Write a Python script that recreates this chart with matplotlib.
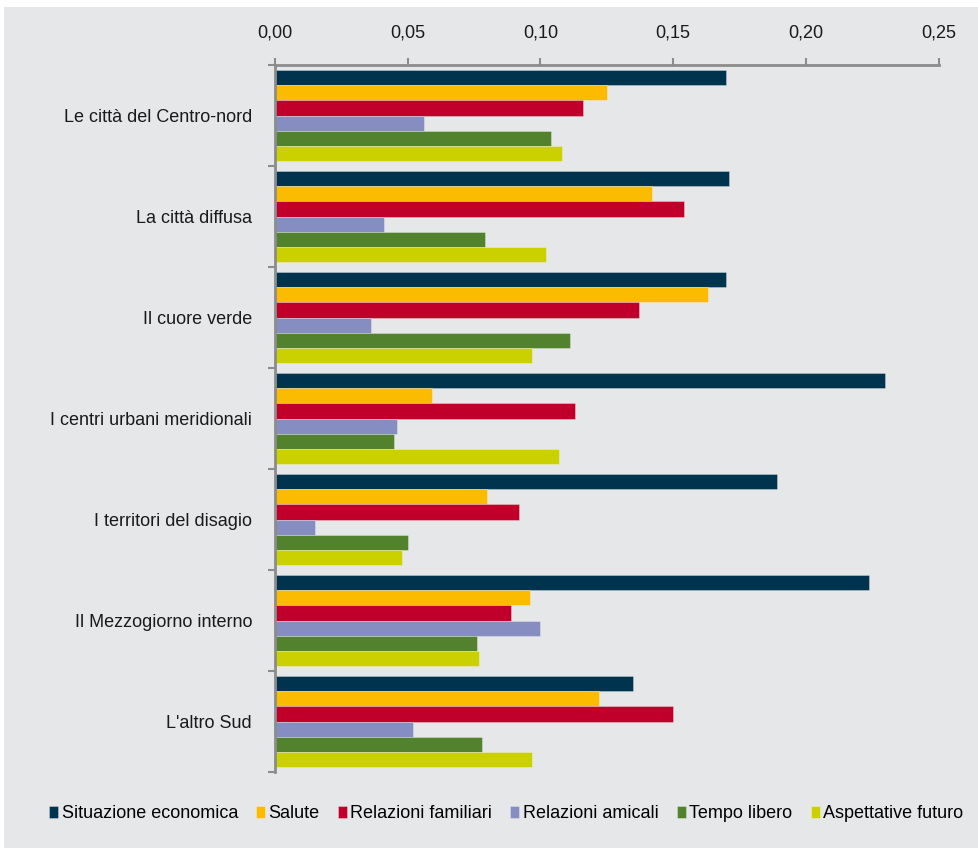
import matplotlib.pyplot as plt
import numpy as np
from matplotlib.patches import Rectangle
from matplotlib.ticker import FuncFormatter, FixedLocator

plt.rcParams['font.family'] = ['Liberation Sans', 'DejaVu Sans']

# Data
categories = ['Le città del Centro-nord', 'La città diffusa', 'Il cuore verde',
              'I centri urbani meridionali', 'I territori del disagio',
              'Il Mezzogiorno interno', "L'altro Sud"]
series_names = ['Situazione economica', 'Salute', 'Relazioni familiari',
                'Relazioni amicali', 'Tempo libero', 'Aspettative futuro']
situazione = [0.170, 0.171, 0.170, 0.230, 0.189, 0.224, 0.135]
salute = [0.125, 0.142, 0.163, 0.059, 0.080, 0.096, 0.122]
familiari = [0.116, 0.154, 0.137, 0.113, 0.092, 0.089, 0.150]
amicali = [0.056, 0.041, 0.036, 0.046, 0.015, 0.100, 0.052]
tempo = [0.104, 0.079, 0.111, 0.045, 0.050, 0.076, 0.078]
aspettative = [0.108, 0.102, 0.097, 0.107, 0.048, 0.077, 0.097]
series = [situazione, salute, familiari, amicali, tempo, aspettative]
colors = ['#00334d', '#fbbb00', '#c0002a', '#868dc0', '#53822e', '#cbd100']

bg = '#e6e7e9'
fig = plt.figure(figsize=(9.79, 8.51), dpi=100, facecolor='white')
fig.patches.append(Rectangle((4 / 979, 3 / 851), 975 / 979, 841 / 851,
                             transform=fig.transFigure, facecolor=bg,
                             edgecolor='none', zorder=-10))

ax = fig.add_axes([275 / 979, 1 - 772 / 851, 663.5 / 979, 707 / 851])
ax.set_facecolor(bg)
ax.patch.set_alpha(0)

y = np.arange(len(categories))
h = 0.15
for j, (vals, name, c) in enumerate(zip(series, series_names, colors)):
    ax.barh(y + (j - 2.5) * h, vals, height=h, color=c, label=name,
            edgecolor=(1, 1, 1, 0.35), linewidth=0.6)

ax.set_xlim(0, 0.25)
ax.set_ylim(len(categories) - 0.5, -0.5)

ax.xaxis.tick_top()
ax.set_xticks(np.arange(0, 0.2501, 0.05))
ax.xaxis.set_major_formatter(FuncFormatter(lambda v, p: f'{v:.2f}'.replace('.', ',')))
ax.tick_params(axis='x', length=5, width=1.5, color='#8c8c8c', pad=12,
               labelsize=13, labelcolor='#1a1a1a')

ax.set_yticks(y)
ax.set_yticklabels(categories)
ax.yaxis.set_minor_locator(FixedLocator(np.arange(-0.5, len(categories), 1.0)))
ax.tick_params(axis='y', which='major', length=0, pad=16.5, labelsize=13,
               labelcolor='#1a1a1a')
ax.tick_params(axis='y', which='minor', length=5, width=1.5, color='#8c8c8c')

for s in ['right', 'bottom']:
    ax.spines[s].set_visible(False)
for s in ['top', 'left']:
    ax.spines[s].set_color('#8c8c8c')
    ax.spines[s].set_linewidth(2)

fig.legend(loc='center', bbox_to_anchor=(0.517, 1 - 814 / 851), ncol=6,
           frameon=False, fontsize=13, handlelength=0.5, handleheight=0.6,
           handletextpad=0.2, columnspacing=1.0)

plt.savefig('out.png', dpi=100, facecolor='white')
